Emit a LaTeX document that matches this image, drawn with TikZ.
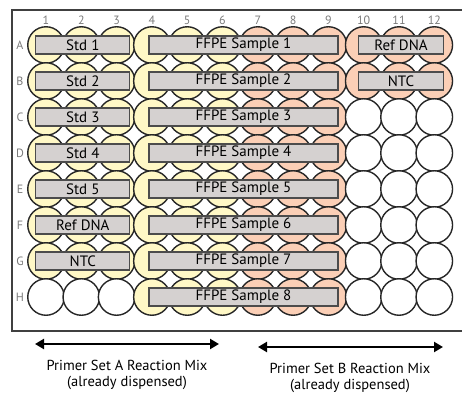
\documentclass[tikz,border=0pt]{standalone}
\usepackage{fontspec}
\setmainfont{PT Sans}
\usetikzlibrary{arrows.meta}

\definecolor{wellA}{HTML}{FFF8C6}
\definecolor{wellB}{HTML}{FBCFB6}
\definecolor{barfill}{HTML}{D5D1D0}
\definecolor{labgray}{HTML}{7A7A7A}

\begin{document}
\begin{tikzpicture}[
    x=1pt, y=-1pt,
    font=\fontsize{15pt}{17pt}\selectfont,
    well/.style={circle, draw=black!85, line width=1.4pt, minimum size=36.5pt, inner sep=0pt},
    bar/.style={rectangle, draw=black!70, line width=1.1pt, fill=barfill, minimum height=18pt, inner sep=0pt},
    axlab/.style={text=labgray, font=\fontsize{12pt}{14pt}\selectfont, inner sep=0pt},
    mixlab/.style={align=center, font=\fontsize{14.5pt}{16pt}\selectfont, inner sep=0pt},
    arrow/.style={line width=2.2pt, {Triangle[length=9pt,width=10pt]}-{Triangle[length=9pt,width=10pt]}}
]
\useasboundingbox (0,0) rectangle (462,394);

% --- Plate ---
\draw[line width=1.6pt, black!75] (470,10) -- (12,10) -- (12,331) -- (470,331);

% Column numbers
\foreach \c in {1,...,12}
  \node[axlab] (col-\c) at ({46+35.3*(\c-1)}, 20) {\c};

% Wells (white unless a mix has been dispensed)
\foreach \rl [count=\r] in {A,...,H} {
  \node[axlab] (row-\rl) at (20, {9+36*\r}) {\rl};
  \foreach \c in {1,...,12} {
    \def\wc{white}
    \ifnum\c<7 \def\wc{wellA}\fi
    \ifnum\c>6 \def\wc{wellB}\fi
    \ifnum\r=8 \ifnum\c<4 \def\wc{white}\fi\fi
    \ifnum\c>9 \ifnum\r>2 \def\wc{white}\fi\fi
    \node[well, fill=\wc] (w-\rl-\c) at ({46+35.3*(\c-1)}, {9+36*\r}) {};
  }
}

% --- Sample labels ---
\node[bar, minimum width=94pt] (std1) at ([xshift=1.5pt]w-A-2) {Std 1};
\node[bar, minimum width=94pt] (std2) at ([xshift=1.5pt]w-B-2) {Std 2};
\node[bar, minimum width=94pt] (std3) at ([xshift=1.5pt]w-C-2) {Std 3};
\node[bar, minimum width=94pt] (std4) at ([xshift=1.5pt]w-D-2) {Std 4};
\node[bar, minimum width=94pt] (std5) at ([xshift=1.5pt]w-E-2) {Std 5};
\node[bar, minimum width=94pt] (refA) at ([xshift=1.5pt]w-F-2) {Ref DNA};
\node[bar, minimum width=94pt] (ntcA) at ([xshift=1.5pt]w-G-2) {NTC};

\foreach \rl [count=\r] in {A,...,H}
  \node[bar, minimum width=189pt] (ffpe-\rl) at ([xshift=2pt]w-\rl-6.east) {FFPE Sample \r};

\node[bar, minimum width=85pt] (refB) at ([xshift=2pt]w-A-11) {Ref DNA};
\node[bar, minimum width=85pt] (ntcB) at ([xshift=2pt]w-B-11) {NTC};

% --- Reaction mixes ---
\coordinate (mixA-l) at (35,344);
\coordinate (mixA-r) at (219,344);
\coordinate (mixB-l) at (258,347);
\coordinate (mixB-r) at (443,347);
\draw[arrow] (mixA-l) -- (mixA-r);
\draw[arrow] (mixB-l) -- (mixB-r);
\node[mixlab] (mixA) at (127,375) {Primer Set A Reaction Mix\\(already dispensed)};
\node[mixlab] (mixB) at (350,378) {Primer Set B Reaction Mix\\(already dispensed)};

\end{tikzpicture}
\end{document}
